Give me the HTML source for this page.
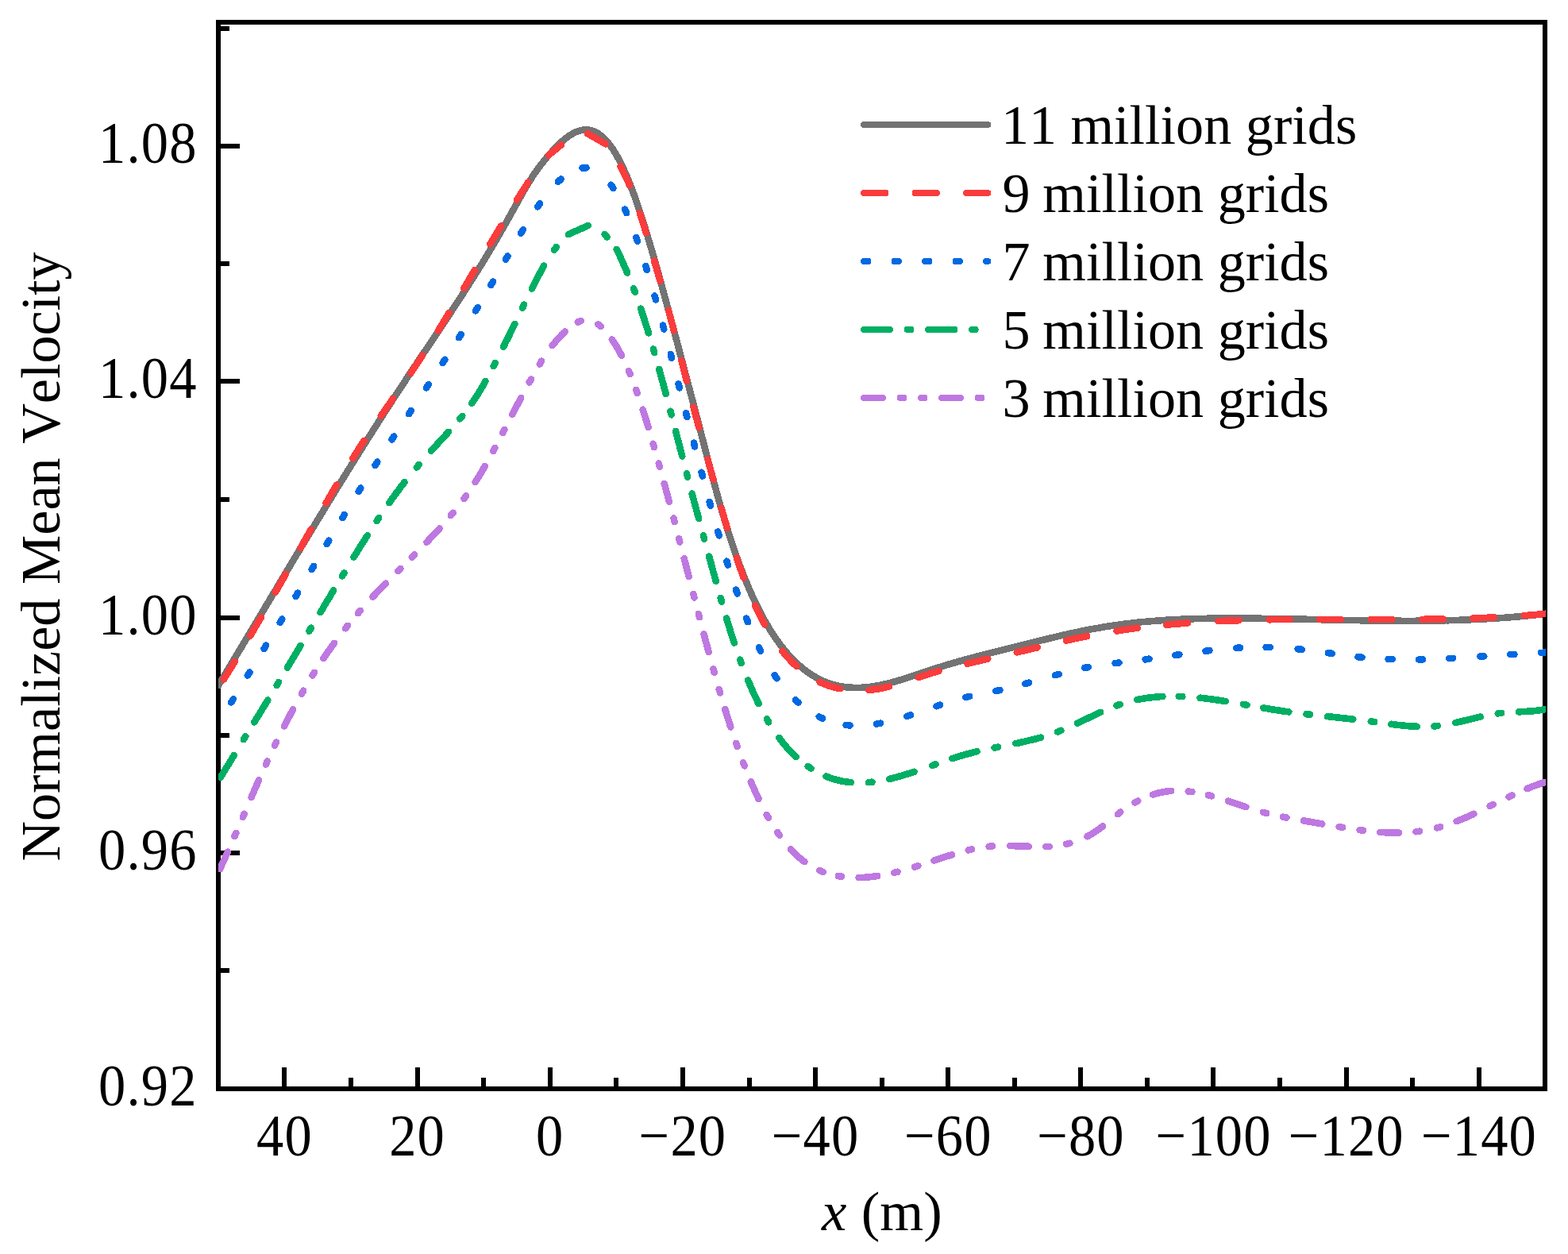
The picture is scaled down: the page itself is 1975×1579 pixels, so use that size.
<!DOCTYPE html>
<html lang="en"><head><meta charset="utf-8"><title>Normalized Mean Velocity</title>
<style>
html,body{margin:0;padding:0;background:#fff;}
body{width:1975px;height:1579px;overflow:hidden;}
svg{display:block;}
.t{font-family:"Liberation Serif","Times New Roman",serif;font-size:70.6px;fill:#000;font-kerning:none;white-space:pre;}
</style></head><body>
<svg width="1975" height="1579" viewBox="0 0 1975 1579">
<rect x="0" y="0" width="1975" height="1579" fill="#fff"/>
<defs><clipPath id="plot"><rect x="275.1" y="28.0" width="1671.9" height="1343.0"/></clipPath></defs>
<g id="axes" fill="#000" shape-rendering="crispEdges">
<rect x="272" y="25" width="1677" height="6"/>
<rect x="272" y="1368" width="1677" height="6"/>
<rect x="272" y="25" width="6" height="1349"/>
<rect x="1943" y="25" width="6" height="1349"/>
<rect x="355" y="1344" width="6" height="27"/>
<rect x="439" y="1357" width="6" height="14"/>
<rect x="523" y="1344" width="6" height="27"/>
<rect x="606" y="1357" width="6" height="14"/>
<rect x="690" y="1344" width="6" height="27"/>
<rect x="773" y="1357" width="6" height="14"/>
<rect x="857" y="1344" width="6" height="27"/>
<rect x="941" y="1357" width="6" height="14"/>
<rect x="1024" y="1344" width="6" height="27"/>
<rect x="1108" y="1357" width="6" height="14"/>
<rect x="1191" y="1344" width="6" height="27"/>
<rect x="1275" y="1357" width="6" height="14"/>
<rect x="1358" y="1344" width="6" height="27"/>
<rect x="1442" y="1357" width="6" height="14"/>
<rect x="1525" y="1344" width="6" height="27"/>
<rect x="1609" y="1357" width="6" height="14"/>
<rect x="1693" y="1344" width="6" height="27"/>
<rect x="1776" y="1357" width="6" height="14"/>
<rect x="1860" y="1344" width="6" height="27"/>
<rect x="275" y="33" width="14" height="6"/>
<rect x="275" y="181" width="27" height="6"/>
<rect x="275" y="329" width="14" height="6"/>
<rect x="275" y="477" width="27" height="6"/>
<rect x="275" y="626" width="14" height="6"/>
<rect x="275" y="775" width="27" height="6"/>
<rect x="275" y="923" width="14" height="6"/>
<rect x="275" y="1071" width="27" height="6"/>
<rect x="275" y="1219" width="14" height="6"/>
</g>
<g id="curves" clip-path="url(#plot)" fill="none" stroke-width="8.6" stroke-linecap="round" stroke-linejoin="round" shape-rendering="crispEdges">
<path id="c-purple" d="M277.1,1094.2 L278.3,1091.5 L279.5,1088.8 L280.8,1086.2 L282.0,1083.5 L283.2,1080.8 L284.4,1078.1 L285.6,1075.4 L286.8,1072.7 M295.5,1053.0 L296.4,1050.9 L297.3,1048.8 M305.8,1028.9 L306.7,1026.9 L307.6,1024.8 M316.6,1004.0 L317.7,1001.3 L318.9,998.6 L320.1,995.9 L321.2,993.2 L322.4,990.5 L323.6,987.7 L324.8,985.0 L326.0,982.3 M334.9,962.5 L335.8,960.5 L336.7,958.4 M346.0,938.7 L347.0,936.7 L348.0,934.6 M358.1,914.3 L359.4,911.7 L360.8,909.0 L362.1,906.4 L363.5,903.8 L364.9,901.2 L366.2,898.6 L367.6,896.0 L369.0,893.4 M380.0,873.6 L381.1,871.7 L382.2,869.7 M393.6,850.6 L394.8,848.7 L396.0,846.8 M407.4,829.2 L409.1,826.7 L410.8,824.3 L412.4,821.9 L414.1,819.4 L415.8,817.0 L417.5,814.6 L419.2,812.2 L421.0,809.8 M435.1,791.3 L436.5,789.6 L437.9,787.8 M451.0,772.2 L452.4,770.5 L453.9,768.8 M469.5,751.6 L471.5,749.5 L473.5,747.4 L475.6,745.2 L477.6,743.1 L479.6,741.0 L481.7,738.8 L483.8,736.7 L485.8,734.6 M501.2,719.2 L502.8,717.6 L504.4,716.0 M518.8,701.6 L520.4,700.0 L522.0,698.4 M537.4,682.7 L539.5,680.6 L541.5,678.4 L543.5,676.3 L545.6,674.2 L547.6,672.0 L549.6,669.8 L551.6,667.7 L553.6,665.5 M567.9,649.1 L569.3,647.4 L570.8,645.7 M584.5,627.9 L585.8,626.0 L587.2,624.2 M598.7,607.1 L600.2,604.6 L601.8,602.1 L603.3,599.6 L604.9,597.1 L606.4,594.6 L607.9,592.0 L609.3,589.5 L610.8,586.9 M621.1,568.1 L622.2,566.1 L623.3,564.1 M633.2,545.1 L634.2,543.1 L635.3,541.1 M645.3,521.9 L646.6,519.3 L648.0,516.7 L649.4,514.1 L650.7,511.5 L652.1,508.9 L653.5,506.2 L654.9,503.6 L656.2,501.0 M666.7,481.5 L667.8,479.5 L668.9,477.6 M679.8,458.5 L680.9,456.6 L682.1,454.6 M695.7,435.1 L697.6,432.8 L699.4,430.6 L701.4,428.3 L703.3,426.1 L705.3,423.9 L707.3,421.8 L709.4,419.7 L711.6,417.6 M727.8,405.6 L729.9,404.7 L732.0,404.0 M753.3,408.4 L755.1,409.7 L756.8,411.2 M770.8,427.4 L772.5,429.8 L774.1,432.3 L775.6,434.8 L777.2,437.3 L778.6,439.9 L780.1,442.5 L781.5,445.1 L782.8,447.7 M791.9,467.0 L792.8,469.1 L793.7,471.2 M801.3,490.8 L802.0,493.0 L802.8,495.1 M809.7,515.7 L810.6,518.5 L811.5,521.3 L812.4,524.1 L813.2,527.0 L814.1,529.8 L815.0,532.6 L815.8,535.4 L816.7,538.2 M822.7,558.8 L823.3,560.9 L823.9,563.1 M829.7,583.5 L830.3,585.6 L830.9,587.8 M836.7,608.9 L837.5,611.7 L838.3,614.6 L839.0,617.4 L839.8,620.3 L840.6,623.1 L841.3,626.0 L842.1,628.8 L842.9,631.7 M848.5,652.6 L849.0,654.8 L849.6,657.0 M855.2,678.2 L855.8,680.3 L856.3,682.5 M861.7,703.3 L862.5,706.2 L863.2,709.0 L864.0,711.9 L864.7,714.7 L865.4,717.6 L866.2,720.4 L866.9,723.3 L867.7,726.1 M873.4,748.1 L873.9,750.3 L874.5,752.5 M879.8,772.8 L880.4,775.0 L880.9,777.2 M886.5,798.4 L887.3,801.3 L888.1,804.1 L888.8,807.0 L889.6,809.8 L890.4,812.7 L891.1,815.5 L891.9,818.4 L892.7,821.2 M898.5,842.4 L899.1,844.6 L899.7,846.8 M905.7,867.9 L906.4,870.1 L907.0,872.3 M913.2,893.0 L914.1,895.8 L915.0,898.6 L915.8,901.5 L916.7,904.3 L917.6,907.1 L918.5,909.9 L919.4,912.7 L920.3,915.5 M927.2,935.8 L927.9,937.9 L928.7,940.0 M936.1,960.1 L936.9,962.2 L937.7,964.3 M945.8,984.4 L947.0,987.1 L948.2,989.8 L949.4,992.5 L950.6,995.2 L951.8,997.9 L953.0,1000.6 L954.3,1003.2 L955.5,1005.9 M965.7,1025.8 L966.8,1027.7 L967.9,1029.7 M979.2,1048.0 L980.5,1049.9 L981.8,1051.7 M995.9,1069.3 L997.9,1071.4 L1000.0,1073.5 L1002.1,1075.6 L1004.3,1077.6 L1006.5,1079.6 L1008.7,1081.5 L1011.0,1083.3 L1013.4,1085.1 M1032.4,1096.1 L1034.5,1097.0 L1036.6,1097.8 M1055.8,1103.1 L1058.0,1103.4 L1060.2,1103.8 M1081.7,1105.1 L1084.7,1105.0 L1087.6,1104.9 L1090.6,1104.7 L1093.5,1104.4 L1096.4,1104.2 L1099.4,1103.8 L1102.3,1103.5 L1105.2,1103.0 M1126.3,1098.9 L1128.5,1098.3 L1130.6,1097.8 M1152.0,1091.6 L1154.2,1090.9 L1156.3,1090.2 M1176.6,1083.6 L1179.3,1082.6 L1182.1,1081.7 L1184.9,1080.8 L1187.8,1079.8 L1190.6,1078.9 L1193.4,1078.0 L1196.2,1077.1 L1199.0,1076.3 M1219.7,1070.5 L1221.9,1070.0 L1224.1,1069.5 M1245.6,1065.9 L1247.9,1065.7 L1250.1,1065.5 M1272.2,1065.0 L1275.1,1065.1 L1278.1,1065.2 L1281.0,1065.3 L1284.0,1065.4 L1286.9,1065.5 L1289.9,1065.6 L1292.8,1065.7 L1295.8,1065.8 M1317.2,1066.0 L1319.5,1065.9 L1321.7,1065.8 M1343.0,1062.9 L1345.2,1062.4 L1347.4,1061.8 M1369.5,1053.3 L1372.1,1051.9 L1374.6,1050.4 L1377.2,1048.8 L1379.6,1047.2 L1382.0,1045.5 L1384.4,1043.8 L1386.8,1042.0 L1389.1,1040.2 M1407.8,1025.2 L1409.5,1023.9 L1411.3,1022.5 M1429.4,1010.6 L1431.4,1009.5 L1433.3,1008.5 M1452.1,1000.5 L1454.9,999.6 L1457.8,998.8 L1460.6,998.1 L1463.5,997.5 L1466.4,997.0 L1469.4,996.5 L1472.3,996.2 L1475.2,995.9 M1496.8,996.5 L1499.1,996.8 L1501.3,997.1 M1521.8,1001.2 L1523.9,1001.8 L1526.1,1002.4 M1546.9,1008.7 L1549.7,1009.6 L1552.5,1010.6 L1555.3,1011.5 L1558.1,1012.4 L1560.9,1013.4 L1563.7,1014.3 L1566.5,1015.3 L1569.3,1016.2 M1590.9,1022.8 L1593.0,1023.4 L1595.2,1024.0 M1616.0,1028.7 L1618.2,1029.2 L1620.4,1029.6 M1642.1,1033.4 L1645.0,1033.9 L1647.9,1034.4 L1650.8,1034.9 L1653.7,1035.4 L1656.6,1035.9 L1659.5,1036.4 L1662.4,1036.9 L1665.3,1037.4 M1686.7,1041.2 L1689.0,1041.5 L1691.2,1041.9 M1712.7,1045.2 L1715.0,1045.5 L1717.2,1045.8 M1738.4,1047.9 L1741.4,1048.1 L1744.3,1048.2 L1747.3,1048.4 L1750.2,1048.5 L1753.2,1048.6 L1756.1,1048.6 L1759.1,1048.6 L1762.0,1048.6 M1783.5,1047.3 L1785.7,1047.0 L1788.0,1046.7 M1809.9,1042.4 L1812.0,1041.9 L1814.2,1041.2 M1834.7,1034.2 L1837.4,1033.1 L1840.2,1032.0 L1842.9,1030.9 L1845.6,1029.7 L1848.3,1028.5 L1851.0,1027.3 L1853.7,1026.1 L1856.4,1024.8 M1876.6,1015.1 L1878.6,1014.1 L1880.6,1013.1 M1900.6,1003.4 L1902.7,1002.4 L1904.7,1001.5 M1923.5,993.1 L1926.2,992.0 L1928.9,990.9 L1931.7,989.8 L1934.5,988.8 L1937.2,987.8 L1940.0,986.8 L1942.8,985.9 L1945.6,985.0" stroke="#be78e1"/>
<path id="c-green" d="M278.0,978.7 L279.5,976.1 L281.0,973.6 L282.5,971.1 L284.1,968.5 L285.6,966.0 L287.1,963.5 L288.7,961.0 L290.2,958.4 L291.7,955.9 L293.3,953.4 L294.8,950.9 M306.9,931.2 L308.1,929.2 L309.3,927.3 M320.3,909.4 L321.9,906.9 L323.4,904.3 L324.9,901.8 L326.5,899.3 L328.0,896.8 L329.6,894.3 L331.1,891.7 L332.6,889.2 L334.2,886.7 L335.7,884.2 L337.3,881.6 M348.6,862.9 L349.8,860.9 L351.0,859.0 M361.8,840.8 L363.4,838.3 L364.9,835.8 L366.4,833.2 L367.9,830.7 L369.4,828.2 L371.0,825.6 L372.5,823.1 L374.0,820.6 L375.5,818.0 L377.0,815.5 L378.5,812.9 M389.4,794.7 L390.6,792.7 L391.8,790.7 M403.5,771.1 L405.0,768.6 L406.6,766.1 L408.1,763.5 L409.6,761.0 L411.1,758.5 L412.6,755.9 L414.2,753.4 L415.7,750.9 L417.2,748.3 L418.7,745.8 L420.2,743.3 M431.1,725.3 L432.3,723.4 L433.5,721.4 M445.5,701.7 L447.1,699.2 L448.6,696.7 L450.2,694.2 L451.8,691.7 L453.3,689.1 L454.9,686.6 L456.5,684.1 L458.0,681.6 L459.6,679.1 L461.2,676.6 L462.8,674.2 M474.6,655.9 L475.9,654.0 L477.2,652.1 M490.2,633.2 L491.9,630.8 L493.6,628.4 L495.3,626.0 L497.1,623.6 L498.8,621.3 L500.6,618.9 L502.4,616.5 L504.1,614.2 L505.9,611.8 L507.8,609.5 L509.6,607.2 M524.8,588.5 L526.3,586.8 L527.8,585.0 M543.0,567.7 L545.0,565.5 L547.0,563.4 L549.0,561.2 L551.0,559.0 L553.0,556.8 L555.0,554.6 L557.0,552.5 L559.0,550.3 L561.0,548.1 L563.0,546.0 L565.0,543.8 M579.3,527.4 L580.8,525.6 L582.3,523.8 M594.3,507.8 L595.9,505.4 L597.6,503.0 L599.2,500.5 L600.8,498.0 L602.4,495.5 L604.0,493.0 L605.5,490.5 L607.0,487.9 L608.5,485.4 L609.9,482.8 L611.4,480.2 M621.7,461.1 L622.8,459.0 L623.8,457.0 M634.0,437.0 L635.3,434.4 L636.6,431.7 L637.9,429.1 L639.3,426.4 L640.6,423.8 L641.9,421.1 L643.2,418.5 L644.5,415.8 L645.8,413.2 L647.1,410.5 L648.4,407.9 M658.1,387.8 L659.1,385.7 L660.1,383.6 M669.9,363.5 L671.3,360.9 L672.6,358.2 L673.9,355.6 L675.3,352.9 L676.6,350.3 L678.0,347.7 L679.4,345.1 L680.8,342.5 L682.2,339.9 L683.6,337.3 L685.1,334.7 M698.1,314.7 L699.4,312.8 L700.8,311.0 M715.9,295.1 L718.6,293.9 L721.4,292.7 L724.1,291.4 L726.8,290.2 L729.6,289.0 L732.3,287.8 L735.1,286.6 L737.8,285.4 L740.6,284.2 M761.7,295.1 L763.2,296.9 L764.6,298.7 M776.6,314.1 L778.1,316.6 L779.3,319.3 L780.6,322.0 L781.8,324.6 L783.0,327.3 L784.2,330.0 L785.4,332.7 L786.6,335.4 L787.8,338.1 L789.0,340.8 L790.2,343.5 M798.2,363.4 L799.0,365.6 L799.8,367.7 M807.1,388.6 L808.0,391.4 L808.9,394.2 L809.9,397.0 L810.8,399.8 L811.7,402.6 L812.6,405.4 L813.5,408.2 L814.3,411.1 L815.2,413.9 L816.1,416.7 L817.0,419.5 M822.9,439.5 L823.6,441.7 L824.2,444.0 M830.2,464.8 L831.0,467.6 L831.7,470.5 L832.5,473.3 L833.3,476.2 L834.1,479.0 L834.9,481.9 L835.7,484.7 L836.4,487.6 L837.2,490.4 L838.0,493.3 L838.8,496.1 M844.5,517.8 L845.1,520.0 L845.7,522.3 M851.1,542.9 L851.9,545.8 L852.6,548.7 L853.3,551.5 L854.1,554.4 L854.8,557.2 L855.6,560.1 L856.3,563.0 L857.0,565.8 L857.8,568.7 L858.5,571.5 L859.3,574.4 M865.0,596.2 L865.5,598.4 L866.1,600.6 M871.7,621.6 L872.4,624.5 L873.2,627.4 L874.0,630.2 L874.7,633.1 L875.5,635.9 L876.3,638.8 L877.0,641.6 L877.8,644.5 L878.6,647.3 L879.4,650.2 L880.1,653.0 M885.9,674.3 L886.5,676.5 L887.1,678.7 M893.1,700.6 L893.9,703.4 L894.7,706.3 L895.5,709.1 L896.2,711.9 L897.0,714.8 L897.8,717.6 L898.6,720.5 L899.4,723.3 L900.2,726.2 L901.0,729.0 L901.8,731.9 M907.7,753.1 L908.3,755.3 L909.0,757.6 M915.1,778.5 L915.9,781.3 L916.8,784.1 L917.6,787.0 L918.5,789.8 L919.4,792.6 L920.2,795.4 L921.1,798.2 L922.0,801.0 L922.9,803.9 L923.9,806.7 L924.8,809.5 M932.2,830.7 L932.9,832.8 L933.7,835.0 M942.2,856.5 L943.3,859.2 L944.5,862.0 L945.6,864.7 L946.8,867.4 L948.0,870.1 L949.2,872.8 L950.5,875.5 L951.7,878.1 L953.0,880.8 L954.3,883.5 L955.6,886.1 M965.9,905.4 L967.1,907.4 L968.2,909.4 M981.2,928.9 L983.0,931.2 L984.8,933.6 L986.6,935.9 L988.5,938.1 L990.4,940.4 L992.4,942.6 L994.4,944.8 L996.4,946.9 L998.5,949.0 L1000.6,951.1 L1002.7,953.1 M1017.7,965.1 L1019.7,966.4 L1021.6,967.7 M1040.6,977.6 L1043.3,978.6 L1046.1,979.6 L1048.9,980.6 L1051.7,981.4 L1054.6,982.2 L1057.5,982.9 L1060.3,983.5 L1063.2,984.0 L1066.2,984.5 L1069.1,984.8 L1072.0,985.1 M1094.0,985.1 L1096.3,984.9 L1098.6,984.7 M1120.3,980.9 L1123.2,980.2 L1126.0,979.4 L1128.9,978.7 L1131.7,977.9 L1134.6,977.1 L1137.4,976.3 L1140.2,975.4 L1143.1,974.5 L1145.9,973.6 L1148.7,972.7 L1151.5,971.8 M1174.1,963.9 L1176.3,963.1 L1178.4,962.4 M1199.3,955.2 L1202.2,954.3 L1205.0,953.4 L1207.8,952.5 L1210.6,951.6 L1213.5,950.8 L1216.3,950.0 L1219.2,949.2 L1222.0,948.5 L1224.9,947.7 L1227.7,947.0 L1230.6,946.3 M1252.6,941.6 L1254.9,941.1 L1257.1,940.7 M1279.3,936.2 L1282.2,935.6 L1285.1,935.0 L1288.0,934.3 L1290.8,933.7 L1293.7,933.0 L1296.6,932.3 L1299.5,931.6 L1302.3,930.9 L1305.2,930.2 L1308.0,929.4 L1310.9,928.6 M1332.2,921.5 L1334.3,920.7 L1336.4,919.8 M1356.9,910.8 L1359.5,909.5 L1362.2,908.3 L1364.9,907.0 L1367.5,905.7 L1370.2,904.4 L1372.8,903.1 L1375.5,901.9 L1378.2,900.6 L1380.8,899.3 L1383.5,898.1 L1386.2,896.9 M1406.5,888.4 L1408.7,887.6 L1410.9,886.9 M1432.1,881.1 L1435.0,880.5 L1437.9,880.0 L1440.8,879.5 L1443.8,879.1 L1446.7,878.6 L1449.6,878.3 L1452.6,877.9 L1455.5,877.7 L1458.4,877.4 L1461.4,877.2 L1464.3,877.0 M1484.7,876.8 L1487.0,876.9 L1489.3,877.0 M1511.5,878.7 L1514.4,879.0 L1517.3,879.3 L1520.3,879.7 L1523.2,880.1 L1526.1,880.5 L1529.0,880.9 L1532.0,881.3 L1534.9,881.7 L1537.8,882.2 L1540.7,882.6 L1543.6,883.1 M1565.9,886.9 L1568.1,887.3 L1570.4,887.7 M1591.3,891.4 L1594.2,891.9 L1597.1,892.4 L1600.0,892.9 L1602.9,893.4 L1605.8,893.9 L1608.8,894.3 L1611.7,894.7 L1614.6,895.2 L1617.5,895.6 L1620.4,896.0 L1623.4,896.4 M1645.6,899.2 L1647.9,899.5 L1650.1,899.7 M1672.0,902.1 L1674.9,902.4 L1677.8,902.7 L1680.8,903.1 L1683.7,903.4 L1686.7,903.7 L1689.6,904.0 L1692.5,904.3 L1695.5,904.6 L1698.4,905.0 L1701.3,905.3 L1704.3,905.6 M1726.7,908.4 L1729.0,908.7 L1731.2,909.0 M1752.3,911.8 L1755.2,912.2 L1758.1,912.6 L1761.1,912.9 L1764.0,913.2 L1766.9,913.5 L1769.9,913.8 L1772.8,914.1 L1775.8,914.3 L1778.7,914.5 L1781.7,914.7 L1784.6,914.8 M1806.4,914.4 L1808.7,914.2 L1811.0,913.9 M1833.1,910.1 L1836.0,909.4 L1838.9,908.8 L1841.8,908.1 L1844.6,907.4 L1847.5,906.7 L1850.4,906.0 L1853.3,905.3 L1856.1,904.6 L1859.0,903.9 L1861.9,903.2 L1864.8,902.6 M1886.7,898.4 L1888.9,898.1 L1891.2,897.9 M1913.0,896.4 L1915.9,896.2 L1918.9,896.1 L1921.8,895.9 L1924.8,895.7 L1927.7,895.5 L1930.7,895.3 L1933.6,895.0 L1936.5,894.7 L1939.5,894.3 L1942.4,893.8 L1945.3,893.3" stroke="#00af64"/>
<path id="c-blue" d="M291.1,884.5 L292.4,882.4 L293.7,880.3 M311.8,850.6 L313.1,848.5 L314.4,846.4 M332.5,816.9 L333.8,814.7 L335.1,812.6 M352.7,783.8 L354.0,781.7 L355.3,779.6 M372.5,750.9 L373.8,748.8 L375.1,746.6 M392.7,717.1 L394.0,714.9 L395.2,712.8 M411.7,685.0 L413.0,682.8 L414.3,680.7 M431.3,652.2 L432.6,650.1 L433.9,647.9 M451.7,618.8 L453.0,616.7 L454.3,614.6 M472.6,585.8 L474.0,583.7 L475.3,581.6 M493.6,553.6 L494.9,551.5 L496.3,549.4 M515.1,521.2 L516.5,519.1 L517.9,517.0 M536.9,488.4 L538.3,486.3 L539.7,484.2 M557.6,457.0 L559.0,454.9 L560.4,452.8 M578.1,425.2 L579.4,423.1 L580.7,421.0 M599.1,391.5 L600.4,389.3 L601.7,387.2 M618.4,359.0 L619.7,356.8 L620.9,354.7 M636.9,326.7 L638.1,324.6 L639.4,322.4 M656.2,293.6 L657.4,291.4 L658.7,289.3 M677.3,260.4 L678.7,258.4 L680.1,256.3 M702.9,229.0 L704.7,227.3 L706.6,225.6 M733.5,211.4 L736.0,211.2 L738.5,211.2 M769.6,232.8 L771.0,234.8 L772.4,236.9 M787.0,263.7 L788.1,265.9 L789.1,268.2 M801.2,298.9 L802.0,301.3 L802.9,303.6 M813.3,335.1 L814.1,337.5 L814.8,339.9 M824.6,372.6 L825.3,375.0 L826.0,377.4 M835.0,409.7 L835.6,412.1 L836.3,414.5 M844.8,446.1 L845.4,448.5 L846.0,451.0 M854.6,483.4 L855.2,485.9 L855.8,488.3 M864.1,520.1 L864.7,522.5 L865.3,524.9 M873.9,557.7 L874.5,560.1 L875.1,562.5 M883.6,594.8 L884.3,597.2 L884.9,599.6 M893.7,631.9 L894.3,634.3 L895.0,636.7 M904.3,669.5 L905.0,671.9 L905.7,674.3 M915.4,706.7 L916.2,709.1 L916.9,711.5 M927.1,742.7 L927.9,745.1 L928.7,747.4 M940.1,778.6 L941.1,780.9 L942.0,783.2 M955.9,815.2 L957.0,817.4 L958.1,819.6 M975.7,850.2 L977.1,852.2 L978.6,854.3 M1001.9,881.2 L1003.7,882.9 L1005.6,884.6 M1031.7,902.5 L1033.9,903.6 L1036.2,904.6 M1065.6,912.9 L1068.0,913.2 L1070.5,913.4 M1104.2,911.6 L1106.6,911.1 L1109.1,910.7 M1142.3,901.8 L1144.7,901.1 L1147.1,900.3 M1179.5,889.3 L1181.9,888.5 L1184.2,887.7 M1216.4,878.1 L1218.8,877.5 L1221.2,876.9 M1254.4,870.1 L1256.8,869.6 L1259.3,869.1 M1291.3,860.9 L1293.8,860.3 L1296.2,859.6 M1328.8,850.2 L1331.2,849.6 L1333.6,848.9 M1366.0,841.0 L1368.4,840.5 L1370.9,840.1 M1404.6,835.1 L1407.0,834.8 L1409.5,834.5 M1442.6,830.4 L1445.1,830.1 L1447.5,829.7 M1480.4,825.0 L1482.8,824.6 L1485.3,824.2 M1518.4,819.7 L1520.9,819.4 L1523.4,819.1 M1557.3,815.9 L1559.7,815.7 L1562.2,815.6 M1594.7,815.0 L1597.2,815.0 L1599.7,815.1 M1634.7,817.2 L1637.2,817.5 L1639.7,817.7 M1672.8,822.1 L1675.3,822.4 L1677.7,822.8 M1710.5,827.2 L1713.0,827.4 L1715.5,827.7 M1748.6,830.0 L1751.1,830.1 L1753.6,830.2 M1787.2,830.5 L1789.7,830.4 L1792.2,830.4 M1825.2,829.1 L1827.7,828.9 L1830.2,828.8 M1864.4,826.6 L1866.9,826.5 L1869.3,826.3 M1902.4,824.2 L1904.9,824.1 L1907.4,823.9 M1940.9,821.9 L1943.4,821.8 L1945.9,821.7" stroke="#0069e1"/>
<path id="c-gray" d="M275.1,863.1 L276.8,860.3 L278.4,857.5 L280.1,854.8 L281.8,852.0 L283.5,849.2 L285.1,846.4 L286.8,843.6 L288.5,840.8 L290.2,838.0 L291.8,835.2 L293.5,832.4 L295.2,829.6 L296.9,826.8 L298.5,824.0 L300.2,821.3 L301.9,818.5 L303.6,815.7 L305.2,812.9 L306.9,810.1 L308.6,807.3 L310.2,804.5 L311.9,801.7 L313.6,798.9 L315.3,796.1 L316.9,793.3 L318.6,790.5 L320.3,787.7 L322.0,784.9 L323.6,782.1 L325.3,779.3 L327.0,776.5 L328.7,773.7 L330.3,770.9 L332.0,768.1 L333.7,765.3 L335.3,762.5 L337.0,759.7 L338.7,756.9 L340.4,754.1 L342.0,751.3 L343.7,748.5 L345.4,745.7 L347.1,742.9 L348.7,740.1 L350.4,737.3 L352.1,734.5 L353.8,731.7 L355.4,728.9 L357.1,726.1 L358.8,723.3 L360.5,720.5 L362.1,717.7 L363.8,715.0 L365.5,712.2 L367.1,709.4 L368.8,706.6 L370.5,703.8 L372.2,701.0 L373.8,698.3 L375.5,695.5 L377.2,692.7 L378.9,689.9 L380.5,687.1 L382.2,684.4 L383.9,681.6 L385.6,678.8 L387.2,676.1 L388.9,673.3 L390.6,670.5 L392.3,667.8 L393.9,665.0 L395.6,662.2 L397.3,659.5 L398.9,656.7 L400.6,654.0 L402.3,651.2 L404.0,648.4 L405.6,645.7 L407.3,643.0 L409.0,640.2 L410.7,637.5 L412.3,634.7 L414.0,632.0 L415.7,629.2 L417.4,626.5 L419.0,623.8 L420.7,621.1 L422.4,618.3 L424.0,615.6 L425.7,612.9 L427.4,610.2 L429.1,607.4 L430.7,604.7 L432.4,602.0 L434.1,599.3 L435.8,596.6 L437.4,593.9 L439.1,591.2 L440.8,588.5 L442.5,585.8 L444.1,583.1 L445.8,580.4 L447.5,577.7 L449.2,575.1 L450.8,572.4 L452.5,569.7 L454.2,567.0 L455.8,564.4 L457.5,561.7 L459.2,559.0 L460.9,556.4 L462.5,553.7 L464.2,551.1 L465.9,548.4 L467.6,545.8 L469.2,543.1 L470.9,540.5 L472.6,537.9 L474.3,535.2 L475.9,532.6 L477.6,530.0 L479.3,527.4 L480.9,524.8 L482.6,522.1 L484.3,519.5 L486.0,516.9 L487.6,514.3 L489.3,511.7 L491.0,509.2 L492.7,506.6 L494.3,504.0 L496.0,501.4 L497.7,498.8 L499.4,496.3 L501.0,493.7 L502.7,491.1 L504.4,488.6 L506.1,486.0 L507.7,483.5 L509.4,481.0 L511.1,478.4 L512.7,475.9 L514.4,473.4 L516.1,470.8 L517.8,468.3 L519.4,465.8 L521.1,463.3 L522.8,460.8 L524.5,458.3 L526.1,455.8 L527.8,453.2 L529.5,450.7 L531.2,448.2 L532.8,445.7 L534.5,443.2 L536.2,440.8 L537.9,438.3 L539.5,435.8 L541.2,433.3 L542.9,430.8 L544.5,428.3 L546.2,425.8 L547.9,423.3 L549.6,420.8 L551.2,418.3 L552.9,415.7 L554.6,413.2 L556.3,410.7 L557.9,408.2 L559.6,405.7 L561.3,403.2 L563.0,400.7 L564.6,398.1 L566.3,395.6 L568.0,393.1 L569.6,390.5 L571.3,388.0 L573.0,385.4 L574.7,382.9 L576.3,380.3 L578.0,377.7 L579.7,375.2 L581.4,372.6 L583.0,370.0 L584.7,367.4 L586.4,364.8 L588.1,362.2 L589.7,359.6 L591.4,356.9 L593.1,354.3 L594.8,351.7 L596.4,349.0 L598.1,346.3 L599.8,343.7 L601.4,341.0 L603.1,338.3 L604.8,335.6 L606.5,332.9 L608.1,330.2 L609.8,327.4 L611.5,324.7 L613.2,321.9 L614.8,319.1 L616.5,316.4 L618.2,313.6 L619.9,310.8 L621.5,307.9 L623.2,305.1 L624.9,302.3 L626.6,299.4 L628.2,296.5 L629.9,293.6 L631.6,290.7 L633.2,287.8 L634.9,284.9 L636.6,281.9 L638.3,279.0 L639.9,276.0 L641.6,273.0 L643.3,270.0 L645.0,266.9 L646.6,263.9 L648.3,260.8 L650.0,257.8 L651.7,254.8 L653.3,251.7 L655.0,248.7 L656.7,245.8 L658.3,242.8 L660.0,239.9 L661.7,237.0 L663.4,234.2 L665.0,231.4 L666.7,228.7 L668.4,226.0 L670.1,223.4 L671.7,220.9 L673.4,218.4 L675.1,216.0 L676.8,213.7 L678.4,211.4 L680.1,209.1 L681.8,206.9 L683.5,204.7 L685.1,202.6 L686.8,200.6 L688.5,198.6 L690.1,196.6 L691.8,194.6 L693.5,192.7 L695.2,190.9 L696.8,189.0 L698.5,187.3 L700.2,185.5 L701.9,183.8 L703.5,182.2 L705.2,180.6 L706.9,179.0 L708.6,177.5 L710.2,176.1 L711.9,174.7 L713.6,173.4 L715.2,172.2 L716.9,171.0 L718.6,169.9 L720.3,168.9 L721.9,168.0 L723.6,167.1 L725.3,166.3 L727.0,165.6 L728.6,165.0 L730.3,164.5 L732.0,164.1 L733.7,163.8 L735.3,163.6 L737.0,163.5 L738.7,163.4 L740.4,163.5 L742.0,163.7 L743.7,164.1 L745.4,164.5 L747.0,165.0 L748.7,165.7 L750.4,166.5 L752.1,167.4 L753.7,168.4 L755.4,169.6 L757.1,170.9 L758.8,172.3 L760.4,173.8 L762.1,175.5 L763.8,177.3 L765.5,179.2 L767.1,181.3 L768.8,183.4 L770.5,185.8 L772.2,188.2 L773.8,190.8 L775.5,193.6 L777.2,196.4 L778.8,199.4 L780.5,202.6 L782.2,205.9 L783.9,209.3 L785.5,212.9 L787.2,216.6 L788.9,220.5 L790.6,224.5 L792.2,228.6 L793.9,232.8 L795.6,237.2 L797.3,241.6 L798.9,246.2 L800.6,250.9 L802.3,255.7 L803.9,260.6 L805.6,265.6 L807.3,270.7 L809.0,275.8 L810.6,281.1 L812.3,286.4 L814.0,291.8 L815.7,297.3 L817.3,302.9 L819.0,308.5 L820.7,314.2 L822.4,320.0 L824.0,325.8 L825.7,331.7 L827.4,337.6 L829.1,343.6 L830.7,349.6 L832.4,355.6 L834.1,361.7 L835.7,367.8 L837.4,373.9 L839.1,380.1 L840.8,386.2 L842.4,392.4 L844.1,398.6 L845.8,404.9 L847.5,411.1 L849.1,417.3 L850.8,423.5 L852.5,429.8 L854.2,436.0 L855.8,442.3 L857.5,448.5 L859.2,454.8 L860.9,461.1 L862.5,467.4 L864.2,473.7 L865.9,480.0 L867.5,486.3 L869.2,492.7 L870.9,499.1 L872.6,505.4 L874.2,511.8 L875.9,518.3 L877.6,524.7 L879.3,531.1 L880.9,537.6 L882.6,544.1 L884.3,550.5 L886.0,557.0 L887.6,563.4 L889.3,569.9 L891.0,576.3 L892.6,582.7 L894.3,589.0 L896.0,595.3 L897.7,601.6 L899.3,607.8 L901.0,613.9 L902.7,620.0 L904.4,626.0 L906.0,632.0 L907.7,637.9 L909.4,643.6 L911.1,649.3 L912.7,654.9 L914.4,660.4 L916.1,665.8 L917.8,671.1 L919.4,676.3 L921.1,681.4 L922.8,686.5 L924.4,691.4 L926.1,696.2 L927.8,700.9 L929.5,705.6 L931.1,710.1 L932.8,714.6 L934.5,719.0 L936.2,723.3 L937.8,727.5 L939.5,731.6 L941.2,735.7 L942.9,739.6 L944.5,743.5 L946.2,747.3 L947.9,751.0 L949.6,754.6 L951.2,758.2 L952.9,761.6 L954.6,765.0 L956.2,768.4 L957.9,771.6 L959.6,774.8 L961.3,777.9 L962.9,780.9 L964.6,783.9 L966.3,786.8 L968.0,789.6 L969.6,792.4 L971.3,795.0 L973.0,797.7 L974.7,800.2 L976.3,802.7 L978.0,805.1 L979.7,807.5 L981.3,809.8 L983.0,812.0 L984.7,814.2 L986.4,816.4 L988.0,818.4 L989.7,820.4 L991.4,822.4 L993.1,824.3 L994.7,826.1 L996.4,827.9 L998.1,829.7 L999.8,831.4 L1001.4,833.0 L1003.1,834.6 L1004.8,836.2 L1006.5,837.7 L1008.1,839.1 L1009.8,840.5 L1011.5,841.9 L1013.1,843.2 L1014.8,844.5 L1016.5,845.7 L1018.2,846.9 L1019.8,848.1 L1021.5,849.2 L1023.2,850.2 L1024.9,851.3 L1026.5,852.2 L1028.2,853.2 L1029.9,854.1 L1031.6,855.0 L1033.2,855.8 L1034.9,856.6 L1036.6,857.4 L1038.2,858.1 L1039.9,858.8 L1041.6,859.4 L1043.3,860.0 L1044.9,860.6 L1046.6,861.2 L1048.3,861.7 L1050.0,862.2 L1051.6,862.6 L1053.3,863.0 L1055.0,863.4 L1056.7,863.8 L1058.3,864.1 L1060.0,864.4 L1061.7,864.7 L1063.4,864.9 L1065.0,865.2 L1066.7,865.3 L1068.4,865.5 L1070.0,865.6 L1071.7,865.7 L1073.4,865.8 L1075.1,865.9 L1076.7,865.9 L1078.4,865.9 L1080.1,865.9 L1081.8,865.9 L1083.4,865.9 L1085.1,865.8 L1086.8,865.7 L1088.5,865.6 L1090.1,865.4 L1091.8,865.3 L1093.5,865.1 L1095.2,864.9 L1096.8,864.7 L1098.5,864.4 L1100.2,864.2 L1101.8,863.9 L1103.5,863.7 L1105.2,863.4 L1106.9,863.0 L1108.5,862.7 L1110.2,862.4 L1111.9,862.0 L1113.6,861.6 L1115.2,861.3 L1116.9,860.9 L1118.6,860.4 L1120.3,860.0 L1121.9,859.6 L1123.6,859.1 L1125.3,858.7 L1126.9,858.2 L1128.6,857.8 L1130.3,857.3 L1132.0,856.8 L1133.6,856.3 L1135.3,855.8 L1137.0,855.3 L1138.7,854.7 L1140.3,854.2 L1142.0,853.7 L1143.7,853.1 L1145.4,852.6 L1147.0,852.1 L1148.7,851.5 L1150.4,851.0 L1152.1,850.4 L1153.7,849.8 L1155.4,849.3 L1157.1,848.7 L1158.7,848.2 L1160.4,847.6 L1162.1,847.0 L1163.8,846.5 L1165.4,845.9 L1167.1,845.3 L1168.8,844.8 L1170.5,844.2 L1172.1,843.7 L1173.8,843.1 L1175.5,842.6 L1177.2,842.0 L1178.8,841.5 L1180.5,841.0 L1182.2,840.4 L1183.9,839.9 L1185.5,839.4 L1187.2,838.9 L1188.9,838.4 L1190.5,837.8 L1192.2,837.3 L1193.9,836.8 L1195.6,836.3 L1197.2,835.8 L1198.9,835.4 L1200.6,834.9 L1202.3,834.4 L1203.9,833.9 L1205.6,833.4 L1207.3,833.0 L1209.0,832.5 L1210.6,832.0 L1212.3,831.5 L1214.0,831.1 L1215.6,830.6 L1217.3,830.2 L1219.0,829.7 L1220.7,829.3 L1222.3,828.8 L1224.0,828.4 L1225.7,827.9 L1227.4,827.5 L1229.0,827.0 L1230.7,826.6 L1232.4,826.2 L1234.1,825.7 L1235.7,825.3 L1237.4,824.9 L1239.1,824.4 L1240.8,824.0 L1242.4,823.6 L1244.1,823.1 L1245.8,822.7 L1247.4,822.3 L1249.1,821.9 L1250.8,821.4 L1252.5,821.0 L1254.1,820.6 L1255.8,820.2 L1257.5,819.8 L1259.2,819.3 L1260.8,818.9 L1262.5,818.5 L1264.2,818.1 L1265.9,817.7 L1267.5,817.3 L1269.2,816.8 L1270.9,816.4 L1272.5,816.0 L1274.2,815.6 L1275.9,815.2 L1277.6,814.7 L1279.2,814.3 L1280.9,813.9 L1282.6,813.5 L1284.3,813.1 L1285.9,812.7 L1287.6,812.2 L1289.3,811.8 L1291.0,811.4 L1292.6,811.0 L1294.3,810.6 L1296.0,810.1 L1297.7,809.7 L1299.3,809.3 L1301.0,808.9 L1302.7,808.5 L1304.3,808.1 L1306.0,807.7 L1307.7,807.2 L1309.4,806.8 L1311.0,806.4 L1312.7,806.0 L1314.4,805.6 L1316.1,805.2 L1317.7,804.8 L1319.4,804.4 L1321.1,804.0 L1322.8,803.6 L1324.4,803.2 L1326.1,802.8 L1327.8,802.4 L1329.5,802.0 L1331.1,801.6 L1332.8,801.2 L1334.5,800.8 L1336.1,800.4 L1337.8,800.0 L1339.5,799.7 L1341.2,799.3 L1342.8,798.9 L1344.5,798.5 L1346.2,798.2 L1347.9,797.8 L1349.5,797.4 L1351.2,797.1 L1352.9,796.7 L1354.6,796.3 L1356.2,796.0 L1357.9,795.6 L1359.6,795.3 L1361.2,794.9 L1362.9,794.6 L1364.6,794.3 L1366.3,793.9 L1367.9,793.6 L1369.6,793.3 L1371.3,792.9 L1373.0,792.6 L1374.6,792.3 L1376.3,792.0 L1378.0,791.7 L1379.7,791.4 L1381.3,791.1 L1383.0,790.8 L1384.7,790.5 L1386.4,790.2 L1388.0,789.9 L1389.7,789.6 L1391.4,789.3 L1393.0,789.1 L1394.7,788.8 L1396.4,788.5 L1398.1,788.3 L1399.7,788.0 L1401.4,787.8 L1403.1,787.5 L1404.8,787.3 L1406.4,787.0 L1408.1,786.8 L1409.8,786.6 L1411.5,786.3 L1413.1,786.1 L1414.8,785.9 L1416.5,785.7 L1418.2,785.5 L1419.8,785.3 L1421.5,785.1 L1423.2,784.9 L1424.8,784.7 L1426.5,784.5 L1428.2,784.3 L1429.9,784.1 L1431.5,783.9 L1433.2,783.7 L1434.9,783.6 L1436.6,783.4 L1438.2,783.2 L1439.9,783.1 L1441.6,782.9 L1443.3,782.8 L1444.9,782.6 L1446.6,782.5 L1448.3,782.3 L1449.9,782.2 L1451.6,782.0 L1453.3,781.9 L1455.0,781.8 L1456.6,781.6 L1458.3,781.5 L1460.0,781.4 L1461.7,781.3 L1463.3,781.1 L1465.0,781.0 L1466.7,780.9 L1468.4,780.8 L1470.0,780.7 L1471.7,780.6 L1473.4,780.5 L1475.1,780.4 L1476.7,780.3 L1478.4,780.2 L1480.1,780.1 L1481.7,780.1 L1483.4,780.0 L1485.1,779.9 L1486.8,779.8 L1488.4,779.7 L1490.1,779.7 L1491.8,779.6 L1493.5,779.5 L1495.1,779.5 L1496.8,779.4 L1498.5,779.3 L1500.2,779.3 L1501.8,779.2 L1503.5,779.2 L1505.2,779.1 L1506.9,779.1 L1508.5,779.0 L1510.2,779.0 L1511.9,778.9 L1513.5,778.9 L1515.2,778.9 L1516.9,778.8 L1518.6,778.8 L1520.2,778.8 L1521.9,778.7 L1523.6,778.7 L1525.3,778.7 L1526.9,778.7 L1528.6,778.6 L1530.3,778.6 L1532.0,778.6 L1533.6,778.6 L1535.3,778.6 L1537.0,778.6 L1538.6,778.5 L1540.3,778.5 L1542.0,778.5 L1543.7,778.5 L1545.3,778.5 L1547.0,778.5 L1548.7,778.5 L1550.4,778.5 L1552.0,778.5 L1553.7,778.5 L1555.4,778.5 L1557.1,778.5 L1558.7,778.5 L1560.4,778.5 L1562.1,778.5 L1563.8,778.5 L1565.4,778.5 L1567.1,778.5 L1568.8,778.6 L1570.4,778.6 L1572.1,778.6 L1573.8,778.6 L1575.5,778.6 L1577.1,778.6 L1578.8,778.6 L1580.5,778.7 L1582.2,778.7 L1583.8,778.7 L1585.5,778.7 L1587.2,778.7 L1588.9,778.8 L1590.5,778.8 L1592.2,778.8 L1593.9,778.8 L1595.5,778.8 L1597.2,778.9 L1598.9,778.9 L1600.6,778.9 L1602.2,778.9 L1603.9,779.0 L1605.6,779.0 L1607.3,779.0 L1608.9,779.1 L1610.6,779.1 L1612.3,779.1 L1614.0,779.1 L1615.6,779.2 L1617.3,779.2 L1619.0,779.2 L1620.7,779.3 L1622.3,779.3 L1624.0,779.3 L1625.7,779.4 L1627.3,779.4 L1629.0,779.4 L1630.7,779.5 L1632.4,779.5 L1634.0,779.5 L1635.7,779.6 L1637.4,779.6 L1639.1,779.6 L1640.7,779.7 L1642.4,779.7 L1644.1,779.7 L1645.8,779.8 L1647.4,779.8 L1649.1,779.9 L1650.8,779.9 L1652.5,779.9 L1654.1,780.0 L1655.8,780.0 L1657.5,780.0 L1659.1,780.1 L1660.8,780.1 L1662.5,780.1 L1664.2,780.2 L1665.8,780.2 L1667.5,780.3 L1669.2,780.3 L1670.9,780.3 L1672.5,780.4 L1674.2,780.4 L1675.9,780.4 L1677.6,780.5 L1679.2,780.5 L1680.9,780.6 L1682.6,780.6 L1684.2,780.6 L1685.9,780.7 L1687.6,780.7 L1689.3,780.7 L1690.9,780.8 L1692.6,780.8 L1694.3,780.8 L1696.0,780.9 L1697.6,780.9 L1699.3,780.9 L1701.0,781.0 L1702.7,781.0 L1704.3,781.0 L1706.0,781.1 L1707.7,781.1 L1709.4,781.1 L1711.0,781.1 L1712.7,781.2 L1714.4,781.2 L1716.0,781.2 L1717.7,781.3 L1719.4,781.3 L1721.1,781.3 L1722.7,781.3 L1724.4,781.4 L1726.1,781.4 L1727.8,781.4 L1729.4,781.4 L1731.1,781.5 L1732.8,781.5 L1734.5,781.5 L1736.1,781.5 L1737.8,781.5 L1739.5,781.6 L1741.2,781.6 L1742.8,781.6 L1744.5,781.6 L1746.2,781.6 L1747.8,781.7 L1749.5,781.7 L1751.2,781.7 L1752.9,781.7 L1754.5,781.7 L1756.2,781.7 L1757.9,781.7 L1759.6,781.7 L1761.2,781.7 L1762.9,781.7 L1764.6,781.8 L1766.3,781.8 L1767.9,781.8 L1769.6,781.8 L1771.3,781.8 L1772.9,781.8 L1774.6,781.8 L1776.3,781.8 L1778.0,781.8 L1779.6,781.8 L1781.3,781.8 L1783.0,781.8 L1784.7,781.7 L1786.3,781.7 L1788.0,781.7 L1789.7,781.7 L1791.4,781.7 L1793.0,781.7 L1794.7,781.7 L1796.4,781.7 L1798.1,781.6 L1799.7,781.6 L1801.4,781.6 L1803.1,781.6 L1804.7,781.6 L1806.4,781.5 L1808.1,781.5 L1809.8,781.5 L1811.4,781.4 L1813.1,781.4 L1814.8,781.4 L1816.5,781.4 L1818.1,781.3 L1819.8,781.3 L1821.5,781.2 L1823.2,781.2 L1824.8,781.2 L1826.5,781.1 L1828.2,781.1 L1829.8,781.0 L1831.5,781.0 L1833.2,780.9 L1834.9,780.9 L1836.5,780.8 L1838.2,780.8 L1839.9,780.7 L1841.6,780.7 L1843.2,780.6 L1844.9,780.5 L1846.6,780.5 L1848.3,780.4 L1849.9,780.3 L1851.6,780.3 L1853.3,780.2 L1855.0,780.1 L1856.6,780.1 L1858.3,780.0 L1860.0,779.9 L1861.6,779.8 L1863.3,779.7 L1865.0,779.7 L1866.7,779.6 L1868.3,779.5 L1870.0,779.4 L1871.7,779.3 L1873.4,779.2 L1875.0,779.1 L1876.7,779.0 L1878.4,778.9 L1880.1,778.8 L1881.7,778.7 L1883.4,778.6 L1885.1,778.5 L1886.8,778.4 L1888.4,778.3 L1890.1,778.1 L1891.8,778.0 L1893.4,777.9 L1895.1,777.8 L1896.8,777.7 L1898.5,777.5 L1900.1,777.4 L1901.8,777.3 L1903.5,777.1 L1905.2,777.0 L1906.8,776.8 L1908.5,776.7 L1910.2,776.6 L1911.9,776.4 L1913.5,776.3 L1915.2,776.1 L1916.9,776.0 L1918.5,775.8 L1920.2,775.6 L1921.9,775.5 L1923.6,775.3 L1925.2,775.1 L1926.9,775.0 L1928.6,774.8 L1930.3,774.6 L1931.9,774.5 L1933.6,774.3 L1935.3,774.1 L1937.0,773.9 L1938.6,773.7 L1940.3,773.5 L1942.0,773.3 L1943.7,773.1 L1945.3,772.9 L1947.0,772.7" stroke="#737373"/>
<path id="c-red" d="M281.7,855.5 L283.3,853.0 L284.9,850.5 L286.4,848.0 L288.0,845.5 L289.6,843.0 L291.2,840.5 L292.7,838.0 L294.3,835.5 L295.8,833.0 M315.4,800.4 L316.9,797.8 L318.4,795.3 L319.9,792.7 L321.3,790.2 L322.8,787.6 L324.3,785.1 L325.8,782.5 L327.3,779.9 L328.8,777.4 M346.8,745.9 L348.3,743.3 L349.8,740.8 L351.2,738.2 L352.7,735.6 L354.1,733.1 L355.6,730.5 L357.1,727.9 L358.5,725.3 L360.0,722.8 M378.5,690.0 L379.9,687.5 L381.4,684.9 L382.8,682.3 L384.3,679.7 L385.7,677.2 L387.2,674.6 L388.7,672.0 L390.1,669.4 L391.6,666.9 M410.5,633.7 L412.0,631.1 L413.5,628.5 L415.0,626.0 L416.4,623.4 L417.9,620.9 L419.4,618.3 L420.9,615.8 L422.4,613.2 L423.9,610.7 M444.2,577.3 L445.8,574.8 L447.3,572.3 L448.9,569.8 L450.5,567.3 L452.1,564.8 L453.7,562.3 L455.3,559.9 L456.9,557.4 L458.6,554.9 M479.8,523.7 L481.5,521.3 L483.2,518.9 L484.8,516.5 L486.5,514.0 L488.2,511.6 L489.9,509.2 L491.6,506.8 L493.3,504.3 L495.0,501.9 M517.2,470.0 L518.8,467.5 L520.5,465.1 L522.1,462.6 L523.8,460.2 L525.4,457.7 L527.0,455.3 L528.7,452.8 L530.3,450.3 L531.9,447.8 M551.7,416.6 L553.3,414.1 L554.8,411.6 L556.4,409.1 L557.9,406.6 L559.5,404.1 L561.0,401.5 L562.6,399.0 L564.1,396.5 L565.6,394.0 M584.4,362.9 L585.9,360.3 L587.4,357.8 L588.9,355.3 L590.4,352.7 L591.9,350.2 L593.4,347.6 L594.9,345.1 L596.4,342.6 L598.0,340.0 M617.3,307.4 L618.8,304.9 L620.4,302.3 L621.9,299.8 L623.4,297.3 L624.9,294.7 L626.4,292.2 L628.0,289.7 L629.5,287.1 L631.0,284.6 M650.9,252.1 L652.5,249.6 L654.1,247.1 L655.6,244.6 L657.2,242.1 L658.8,239.6 L660.4,237.1 L662.0,234.6 L663.6,232.1 L665.2,229.6 M691.0,195.6 L693.1,193.7 L695.4,191.8 L697.7,190.0 L700.0,188.1 L702.2,186.3 L704.5,184.4 L706.8,182.6 M739.9,168.1 L742.4,169.6 L745.0,171.1 L747.6,172.5 L750.1,174.0 L752.7,175.4 L755.3,176.9 L757.8,178.4 L760.4,179.8 L763.0,181.3 M781.6,209.3 L782.9,212.0 L784.2,214.6 L785.5,217.3 L786.8,219.9 L788.2,222.6 L789.5,225.2 L790.7,227.9 L791.9,230.6 L793.1,233.3 M805.8,268.0 L806.7,270.8 L807.6,273.6 L808.5,276.4 L809.4,279.2 L810.3,282.1 L811.2,284.9 L812.1,287.7 L812.9,290.5 L813.8,293.4 M824.1,328.4 L824.9,331.2 L825.7,334.0 L826.5,336.9 L827.4,339.7 L828.2,342.6 L829.0,345.4 L829.8,348.2 L830.7,351.1 L831.5,353.9 M841.9,390.6 L842.7,393.4 L843.5,396.3 L844.3,399.1 L845.0,402.0 L845.8,404.8 L846.5,407.7 L847.3,410.6 L848.0,413.4 L848.8,416.3 M858.4,454.0 L859.1,456.9 L859.8,459.7 L860.5,462.6 L861.3,465.5 L862.0,468.3 L862.7,471.2 L863.5,474.1 L864.2,476.9 L864.9,479.8 M873.6,512.8 L874.3,515.7 L875.1,518.5 L875.9,521.4 L876.6,524.3 L877.4,527.1 L878.2,530.0 L878.9,532.8 L879.7,535.7 L880.5,538.5 M891.4,578.3 L892.1,581.2 L892.9,584.0 L893.7,586.9 L894.5,589.7 L895.3,592.6 L896.1,595.4 L896.9,598.3 L897.7,601.1 L898.5,603.9 M908.5,639.6 L909.4,642.4 L910.2,645.2 L911.0,648.1 L911.8,650.9 L912.7,653.7 L913.5,656.6 L914.3,659.4 L915.2,662.2 L916.0,665.1 M927.8,702.3 L928.7,705.1 L929.7,707.9 L930.6,710.7 L931.6,713.5 L932.6,716.3 L933.6,719.1 L934.6,721.9 L935.6,724.6 L936.7,727.4 M951.2,762.5 L952.5,765.2 L953.7,767.9 L955.0,770.6 L956.3,773.2 L957.7,775.8 L959.0,778.5 L960.4,781.1 L961.8,783.7 L963.2,786.3 M985.3,819.7 L987.1,822.0 L989.0,824.2 L990.9,826.5 L992.9,828.7 L994.9,830.8 L997.0,833.0 L999.1,835.1 L1001.2,837.1 L1003.4,839.1 M1032.7,859.0 L1035.4,860.2 L1038.2,861.4 L1040.9,862.4 L1043.7,863.4 L1046.5,864.3 L1049.4,865.1 L1052.2,865.9 L1055.1,866.6 L1058.0,867.2 M1094.0,869.0 L1097.0,868.7 L1099.9,868.3 L1102.8,867.9 L1105.7,867.5 L1108.7,866.9 L1111.6,866.4 L1114.4,865.7 L1117.3,865.1 L1120.2,864.4 M1156.9,853.0 L1159.7,852.1 L1162.5,851.1 L1165.3,850.2 L1168.2,849.3 L1171.0,848.4 L1173.8,847.5 L1176.6,846.7 L1179.5,845.9 L1182.3,845.0 M1218.4,835.7 L1221.3,835.0 L1224.2,834.3 L1227.1,833.6 L1229.9,833.0 L1232.8,832.3 L1235.7,831.6 L1238.6,831.0 L1241.5,830.3 L1244.3,829.7 M1280.8,821.4 L1283.7,820.7 L1286.6,820.0 L1289.4,819.4 L1292.3,818.7 L1295.2,818.0 L1298.1,817.3 L1300.9,816.6 L1303.8,815.9 L1306.7,815.3 M1343.1,806.6 L1346.0,805.9 L1348.9,805.3 L1351.8,804.6 L1354.7,804.0 L1357.6,803.4 L1360.5,802.8 L1363.4,802.2 L1366.3,801.6 L1369.2,801.0 M1406.5,794.5 L1409.4,794.0 L1412.3,793.6 L1415.2,793.2 L1418.2,792.7 L1421.1,792.3 L1424.0,791.9 L1426.9,791.5 L1429.9,791.1 L1432.8,790.8 M1469.3,786.7 L1472.2,786.5 L1475.2,786.2 L1478.1,785.9 L1481.1,785.7 L1484.0,785.4 L1487.0,785.2 L1489.9,785.0 L1492.9,784.7 L1495.8,784.5 M1534.2,782.2 L1537.1,782.1 L1540.1,782.0 L1543.0,781.8 L1546.0,781.7 L1548.9,781.6 L1551.9,781.5 L1554.8,781.4 L1557.8,781.3 L1560.7,781.2 M1598.2,780.2 L1601.1,780.2 L1604.1,780.1 L1607.1,780.1 L1610.0,780.1 L1613.0,780.0 L1615.9,780.0 L1618.9,780.0 L1621.8,779.9 L1624.8,779.9 M1662.0,779.8 L1664.9,779.8 L1667.9,779.8 L1670.8,779.8 L1673.8,779.8 L1676.7,779.8 L1679.7,779.8 L1682.7,779.8 L1685.6,779.8 L1688.6,779.8 M1726.9,779.9 L1729.8,779.9 L1732.8,779.9 L1735.7,779.9 L1738.7,780.0 L1741.6,780.0 L1744.6,780.0 L1747.5,780.0 L1750.5,780.0 L1753.5,780.0 M1791.2,779.8 L1794.1,779.8 L1797.1,779.7 L1800.0,779.7 L1803.0,779.7 L1806.0,779.6 L1808.9,779.6 L1811.9,779.6 L1814.8,779.5 L1817.8,779.5 M1855.5,778.5 L1858.5,778.4 L1861.4,778.3 L1864.4,778.2 L1867.3,778.1 L1870.3,777.9 L1873.2,777.8 L1876.2,777.7 L1879.1,777.6 L1882.1,777.4 M1919.6,775.1 L1922.5,774.9 L1925.5,774.7 L1928.4,774.5 L1931.4,774.2 L1934.3,774.0 L1937.2,773.7 L1940.2,773.5 L1943.1,773.2 L1946.1,772.9" stroke="#fa3c3c"/>
</g>
<g id="labels" class="t">
<text transform="translate(358.41,1454.80) scale(0.97,1.05)" text-anchor="middle" style="letter-spacing:1.2px;">40</text>
<text transform="translate(525.58,1454.80) scale(0.97,1.05)" text-anchor="middle" style="letter-spacing:1.2px;">20</text>
<text transform="translate(692.75,1454.80) scale(0.97,1.05)" text-anchor="middle" style="letter-spacing:1.2px;">0</text>
<text transform="translate(859.92,1454.80) scale(0.97,1.05)" text-anchor="middle" style="letter-spacing:1.2px;">−20</text>
<text transform="translate(1027.09,1454.80) scale(0.97,1.05)" text-anchor="middle" style="letter-spacing:1.2px;">−40</text>
<text transform="translate(1194.26,1454.80) scale(0.97,1.05)" text-anchor="middle" style="letter-spacing:1.2px;">−60</text>
<text transform="translate(1361.43,1454.80) scale(0.97,1.05)" text-anchor="middle" style="letter-spacing:1.2px;">−80</text>
<text transform="translate(1528.60,1454.80) scale(0.97,1.05)" text-anchor="middle" style="letter-spacing:1.2px;">−100</text>
<text transform="translate(1695.77,1454.80) scale(0.97,1.05)" text-anchor="middle" style="letter-spacing:1.2px;">−120</text>
<text transform="translate(1862.94,1454.80) scale(0.97,1.05)" text-anchor="middle" style="letter-spacing:1.2px;">−140</text>
<text transform="translate(248.60,1392.30) scale(0.97,1.05)" text-anchor="end" style="letter-spacing:1.2px;">0.92</text>
<text transform="translate(248.60,1095.30) scale(0.97,1.05)" text-anchor="end" style="letter-spacing:1.2px;">0.96</text>
<text transform="translate(248.60,799.30) scale(0.97,1.05)" text-anchor="end" style="letter-spacing:1.2px;">1.00</text>
<text transform="translate(248.60,501.30) scale(0.97,1.05)" text-anchor="end" style="letter-spacing:1.2px;">1.04</text>
<text transform="translate(248.60,205.30) scale(0.97,1.05)" text-anchor="end" style="letter-spacing:1.2px;">1.08</text>
<text transform="translate(1035.00,1549.20)" text-anchor="start"><tspan font-style="italic">x</tspan><tspan x="32.15"> (m)</tspan></text>
<text transform="translate(75.00,701.00) rotate(-90) scale(0.9933,1.0)" text-anchor="middle" style="font-size:70.6px;">Normalized Mean Velocity</text>
</g>
<g id="legend" shape-rendering="crispEdges">
<line x1="1088.0" y1="157.0" x2="1244.2" y2="157.0" stroke="#737373" stroke-width="8.1" stroke-linecap="round"/>
<line x1="1088.0" y1="243.0" x2="1244.2" y2="243.0" stroke="#fa3c3c" stroke-width="8.1" stroke-linecap="round" stroke-dasharray="27.3 37.2"/>
<line x1="1088.0" y1="329.0" x2="1244.2" y2="329.0" stroke="#0069e1" stroke-width="8.1" stroke-linecap="round" stroke-dasharray="5.3 33.2"/>
<line x1="1088.0" y1="415.0" x2="1244.2" y2="415.0" stroke="#00af64" stroke-width="8.1" stroke-linecap="round" stroke-dasharray="33.1 21.7 4.6 21.8"/>
<line x1="1088.0" y1="501.0" x2="1244.2" y2="501.0" stroke="#be78e1" stroke-width="8.1" stroke-linecap="round" stroke-dasharray="24.1 21.7 4.5 21.6 4.5 21.6"/>
</g>
<g id="legendtext" class="t">
<text transform="translate(1261.00,181.00) scale(0.9944,1.0)" text-anchor="start"><tspan>11</tspan><tspan x="70.34"> million grids</tspan></text>
<text transform="translate(1262.40,267.00) scale(0.9944,1.0)" text-anchor="start"><tspan>9</tspan><tspan x="33.54"> million grids</tspan></text>
<text transform="translate(1262.40,353.00) scale(0.9944,1.0)" text-anchor="start"><tspan>7</tspan><tspan x="33.54"> million grids</tspan></text>
<text transform="translate(1262.40,439.00) scale(0.9944,1.0)" text-anchor="start"><tspan>5</tspan><tspan x="33.54"> million grids</tspan></text>
<text transform="translate(1262.40,525.00) scale(0.9944,1.0)" text-anchor="start"><tspan>3</tspan><tspan x="33.54"> million grids</tspan></text>
</g>
</svg>
</body></html>
